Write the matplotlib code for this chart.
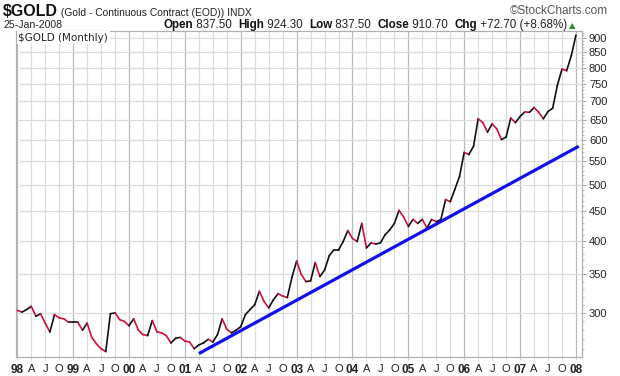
import matplotlib
matplotlib.use("Agg")
import matplotlib.pyplot as plt
from matplotlib.ticker import FixedLocator, FixedFormatter, NullFormatter

plt.rcParams['font.family'] = ['Liberation Sans', 'DejaVu Sans']

# ---- data: monthly closes, Jan 1998 .. Jan 2008 (month index 0..120) ----
closes_1998 = [303, 301, 304, 308, 296, 299, 288, 278, 298, 294, 293, 289]
closes_1999 = [289, 289, 280, 288, 272, 265, 260, 257, 299, 300, 292, 290]
closes_2000 = [285, 293, 280, 275, 274, 291, 278, 277, 274, 266, 271, 272]
closes_2001 = [268, 267, 260, 264, 266, 270, 267, 275, 293, 281, 277, 280]
closes_2002 = [284, 298, 304, 310, 327, 314, 306, 316, 324, 321, 319, 346]
closes_2003 = [369, 350, 340, 341, 367, 347, 356, 377, 386, 386, 399, 417]
closes_2004 = [404, 399, 429, 389, 397, 395, 397, 410, 418, 429, 452, 440]
closes_2005 = [424, 436, 429, 436, 421, 436, 432, 436, 472, 468, 492, 518]
closes_2006 = [570, 565, 584, 652, 642, 618, 639, 626, 600, 606, 654, 642]
closes_2007 = [658, 670, 669, 682, 669, 652, 671, 680, 745, 795, 790, 839]
closes_2008 = [910.7]
closes = (closes_1998 + closes_1999 + closes_2000 + closes_2001 + closes_2002 +
          closes_2003 + closes_2004 + closes_2005 + closes_2006 + closes_2007 + closes_2008)
months = list(range(len(closes)))

trend_months = [39, 120.6]
trend_values = [255, 584]

y_ticks = [300, 350, 400, 450, 500, 550, 600, 650, 700, 750, 800, 850, 900]
y_tick_labels = ['300', '350', '400', '450', '500', '550', '600', '650', '700',
                 '750', '800', '850', '900']
y_minor = [v for v in range(260, 930, 10) if v not in y_ticks]

x_tick_months = list(range(0, 121, 3))
x_tick_labels = ['98', 'A', 'J', 'O', '99', 'A', 'J', 'O', '00', 'A', 'J', 'O',
                 '01', 'A', 'J', 'O', '02', 'A', 'J', 'O', '03', 'A', 'J', 'O',
                 '04', 'A', 'J', 'O', '05', 'A', 'J', 'O', '06', 'A', 'J', 'O',
                 '07', 'A', 'J', 'O', '08']

W, H = 620, 376
fig = plt.figure(figsize=(W / 100, H / 100), dpi=100)
L, R, T, B = 16, 582, 31, 357
ax = fig.add_axes([L / W, (H - B) / H, (R - L) / W, (B - T) / H])

ax.set_yscale('log')
ax.set_ylim(251.5, 926)
ax.set_xlim(-0.28, 121.3)

# grid
for m, lab in zip(x_tick_months, x_tick_labels):
    ax.axvline(m, color='#b9b9b9' if lab.isdigit() else '#dcdcdc', lw=0.9, zorder=0)
for v in y_ticks:
    ax.axhline(v, color='#dcdcdc', lw=0.9, zorder=0)

# price line: red when falling, black when rising
for i in range(len(closes) - 1):
    c = '#d0103a' if closes[i + 1] < closes[i] else '#111111'
    ax.plot(months[i:i + 2], closes[i:i + 2], color=c, lw=1.2,
            solid_capstyle='round', zorder=3)

ax.plot(trend_months, trend_values, color='#1010ee', lw=2.3, zorder=4,
        solid_capstyle='butt')

# axes styling
ax.yaxis.tick_right()
ax.yaxis.set_major_locator(FixedLocator(y_ticks))
ax.yaxis.set_major_formatter(FixedFormatter(y_tick_labels))
ax.yaxis.set_minor_locator(FixedLocator(y_minor))
ax.yaxis.set_minor_formatter(NullFormatter())
ax.tick_params(axis='y', which='major', length=3, width=0.6, color='#999999',
               labelsize=8, labelcolor='#222222', pad=2)
ax.tick_params(axis='y', which='minor', length=1.5, width=0.6, color='#aaaaaa')

ax.xaxis.set_major_locator(FixedLocator(x_tick_months))
ax.xaxis.set_major_formatter(FixedFormatter(x_tick_labels))
ax.tick_params(axis='x', which='both', length=2, width=0.6, color='#cccccc',
               labelsize=8, labelcolor='#222222', pad=3)
for t, lab in zip(ax.get_xticklabels(), x_tick_labels):
    if lab.isdigit():
        t.set_fontweight('bold')
        t.set_fontsize(8.5)

for s in ax.spines.values():
    s.set_color('#b0b0b0')
    s.set_linewidth(0.9)

ax.text(0.004, 0.995, '$GOLD (Monthly)', transform=ax.transAxes, va='top',
        ha='left', fontsize=7.5, family='DejaVu Sans', color='#222222', zorder=5,
        bbox=dict(facecolor='white', edgecolor='none', pad=1.2))

# ---- header ----
fig.canvas.draw()
renderer = fig.canvas.get_renderer()


def put_run(x_px, y_px, pieces, va='baseline'):
    x = x_px
    for txt, kw in pieces:
        t = fig.text(x / W, 1 - y_px / H, txt, ha='left', va=va, **kw)
        bb = t.get_window_extent(renderer=renderer)
        x = bb.x1
    return x


put_run(3, 16, [('$GOLD', dict(fontsize=11.5, fontweight='bold', color='#111111')),
                (' (Gold - Continuous Contract (EOD)) INDX',
                 dict(fontsize=7.4, color='#222222'))])
fig.text(3 / W, 1 - 28 / H, '25-Jan-2008', fontsize=7.6, color='#222222',
         ha='left', va='baseline')
b = dict(fontsize=8.4, fontweight='bold', color='#111111')
n = dict(fontsize=8.4, color='#222222')
xend = put_run(163, 28, [('Open', b), (' 837.50  ', n), ('High', b), (' 924.30  ', n),
                         ('Low', b), (' 837.50  ', n), ('Close', b), (' 910.70  ', n),
                         ('Chg', b), (' +72.70 (+8.68%)', n)])
fig.text((xend + 2) / W, 1 - 28 / H, '\u25B2', fontsize=6, color='#2e8b2e',
         family='DejaVu Sans', ha='left', va='baseline')
fig.text(608 / W, 1 - 14 / H, '\u00A9StockCharts.com', fontsize=8.5, color='#555555',
         ha='right', va='baseline')

fig.savefig('out.png', dpi=100)
